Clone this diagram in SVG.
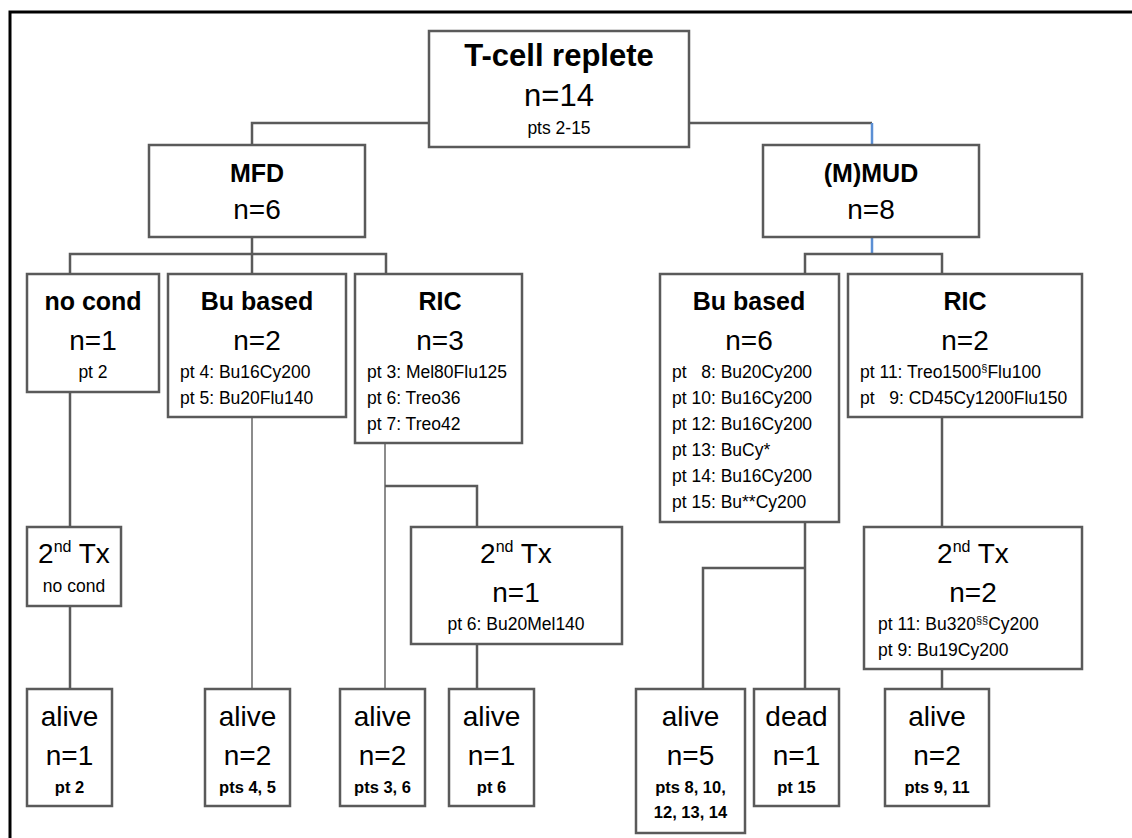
<svg xmlns="http://www.w3.org/2000/svg" width="1132" height="838" viewBox="0 0 1132 838">
  <style>
    .box { fill: #ffffff; stroke: #5a5a5a; stroke-width: 2.5; }
    .ln { fill: none; stroke: #5a5a5a; stroke-width: 2.5; }
    .lt { fill: none; stroke: #8c8c8c; stroke-width: 2; }
    .bl { fill: none; stroke: #5b8fd4; stroke-width: 2.5; }
    text { font-family: "Liberation Sans", Arial, sans-serif; fill: #000000; }
    .t { font-size: 25px; font-weight: bold; text-anchor: middle; }
    .tt { font-size: 31px; font-weight: bold; text-anchor: middle; }
    .n { font-size: 28px; text-anchor: middle; }
    .nn { font-size: 31px; text-anchor: middle; }
    .s { font-size: 17.5px; }
    .sc { font-size: 17.5px; text-anchor: middle; }
    .sb { font-size: 16.5px; font-weight: bold; text-anchor: middle; }
    .sup { font-size: 16px; }
    .sups { font-size: 11px; }
  </style>

  <rect x="0" y="0" width="1132" height="838" fill="#ffffff"/>

  <!-- outer frame (top and left edges) -->
  <path d="M10 838 V12 H1132" fill="none" stroke="#000000" stroke-width="3"/>

  <!-- connectors -->
  <g id="connectors">
    <path class="ln" d="M429 123 H252 V145"/>
    <path class="ln" d="M689 123 H872"/>
    <path class="bl" d="M872 123 V145"/>
    <path class="ln" d="M252 237 V254"/>
    <path class="ln" d="M70 274 V254 H386 V274"/>
    <path class="ln" d="M252 254 V274"/>
    <path class="bl" d="M872 237 V254"/>
    <path class="ln" d="M805 274 V254 H942 V274"/>
    <!-- MFD branches -->
    <path class="ln" d="M70 392 V527"/>
    <path class="ln" d="M70 606 V689"/>
    <path class="lt" d="M252 417 V689"/>
    <path class="lt" d="M385 443 V689"/>
    <path class="ln" d="M385 486 H477 V527"/>
    <path class="ln" d="M477 644 V689"/>
    <!-- (M)MUD branches -->
    <path class="ln" d="M805 522 V689"/>
    <path class="ln" d="M805 568 H703 V689"/>
    <path class="ln" d="M942 417 V527"/>
    <path class="ln" d="M942 669 V689"/>
  </g>

  <g id="tcell">
    <rect class="box" x="429" y="31" width="260" height="116"/>
    <text class="tt" x="559" y="66">T-cell replete</text>
    <text class="nn" x="559" y="106">n=14</text>
    <text class="sc" x="559" y="134">pts 2-15</text>
  </g>

  <g id="mfd">
    <rect class="box" x="149" y="145" width="216" height="92"/>
    <text class="t" x="257" y="182">MFD</text>
    <text class="n" x="257" y="219">n=6</text>
  </g>

  <g id="mmud">
    <rect class="box" x="763" y="145" width="216" height="92"/>
    <text class="t" x="871" y="182">(M)MUD</text>
    <text class="n" x="871" y="219">n=8</text>
  </g>

  <g id="mfd-nocond">
    <rect class="box" x="27" y="274" width="132" height="118"/>
    <text class="t" x="93" y="310">no cond</text>
    <text class="n" x="93" y="350">n=1</text>
    <text class="sc" x="93" y="378">pt 2</text>
  </g>

  <g id="mfd-bu">
    <rect class="box" x="168" y="274" width="178" height="143"/>
    <text class="t" x="257" y="310">Bu based</text>
    <text class="n" x="257" y="350">n=2</text>
    <text class="s" x="180" y="378">pt 4: Bu16Cy200</text>
    <text class="s" x="180" y="404">pt 5: Bu20Flu140</text>
  </g>

  <g id="mfd-ric">
    <rect class="box" x="355" y="274" width="167" height="169"/>
    <text class="t" x="440" y="310">RIC</text>
    <text class="n" x="440" y="350">n=3</text>
    <text class="s" x="367" y="378">pt 3: Mel80Flu125</text>
    <text class="s" x="367" y="404">pt 6: Treo36</text>
    <text class="s" x="367" y="430">pt 7: Treo42</text>
  </g>

  <g id="mmud-bu">
    <rect class="box" x="660" y="274" width="179" height="248"/>
    <text class="t" x="749" y="310">Bu based</text>
    <text class="n" x="749" y="350">n=6</text>
    <text class="s" x="672" y="378" xml:space="preserve">pt   8: Bu20Cy200</text>
    <text class="s" x="672" y="404">pt 10: Bu16Cy200</text>
    <text class="s" x="672" y="430">pt 12: Bu16Cy200</text>
    <text class="s" x="672" y="456">pt 13: BuCy*</text>
    <text class="s" x="672" y="482">pt 14: Bu16Cy200</text>
    <text class="s" x="672" y="508">pt 15: Bu**Cy200</text>
  </g>

  <g id="mmud-ric">
    <rect class="box" x="848" y="274" width="234" height="143"/>
    <text class="t" x="965" y="310">RIC</text>
    <text class="n" x="965" y="350">n=2</text>
    <text class="s" x="860" y="378">pt 11: Treo1500<tspan class="sups" dy="-6">§</tspan><tspan dy="6">Flu100</tspan></text>
    <text class="s" x="860" y="404" xml:space="preserve">pt   9: CD45Cy1200Flu150</text>
  </g>

  <g id="mfd-nocond-2tx">
    <rect class="box" x="27" y="527" width="94" height="79"/>
    <text class="n" x="74" y="563">2<tspan class="sup" dy="-11">nd</tspan><tspan dy="11"> Tx</tspan></text>
    <text class="sc" x="74" y="592">no cond</text>
  </g>

  <g id="mfd-ric-2tx">
    <rect class="box" x="411" y="527" width="211" height="117"/>
    <text class="n" x="516" y="563">2<tspan class="sup" dy="-11">nd</tspan><tspan dy="11"> Tx</tspan></text>
    <text class="n" x="516" y="602">n=1</text>
    <text class="sc" x="516" y="630">pt 6: Bu20Mel140</text>
  </g>

  <g id="mmud-ric-2tx">
    <rect class="box" x="864" y="527" width="218" height="142"/>
    <text class="n" x="973" y="563">2<tspan class="sup" dy="-11">nd</tspan><tspan dy="11"> Tx</tspan></text>
    <text class="n" x="973" y="602">n=2</text>
    <text class="s" x="878" y="630">pt 11: Bu320<tspan class="sups" dy="-6">§§</tspan><tspan dy="6">Cy200</tspan></text>
    <text class="s" x="878" y="656">pt 9: Bu19Cy200</text>
  </g>

  <g id="out-pt2">
    <rect class="box" x="27" y="689" width="85" height="117"/>
    <text class="n" x="69.5" y="726">alive</text>
    <text class="n" x="69.5" y="765">n=1</text>
    <text class="sb" x="69.5" y="793">pt 2</text>
  </g>

  <g id="out-pts45">
    <rect class="box" x="205" y="689" width="85" height="117"/>
    <text class="n" x="247.5" y="726">alive</text>
    <text class="n" x="247.5" y="765">n=2</text>
    <text class="sb" x="247.5" y="793">pts 4, 5</text>
  </g>

  <g id="out-pts36">
    <rect class="box" x="340" y="689" width="85" height="117"/>
    <text class="n" x="382.5" y="726">alive</text>
    <text class="n" x="382.5" y="765">n=2</text>
    <text class="sb" x="382.5" y="793">pts 3, 6</text>
  </g>

  <g id="out-pt6">
    <rect class="box" x="449" y="689" width="85" height="117"/>
    <text class="n" x="491.5" y="726">alive</text>
    <text class="n" x="491.5" y="765">n=1</text>
    <text class="sb" x="491.5" y="793">pt 6</text>
  </g>

  <g id="out-alive5">
    <rect class="box" x="636" y="689" width="109" height="144"/>
    <text class="n" x="690.5" y="726">alive</text>
    <text class="n" x="690.5" y="765">n=5</text>
    <text class="sb" x="690.5" y="793">pts 8, 10,</text>
    <text class="sb" x="690.5" y="818">12, 13, 14</text>
  </g>

  <g id="out-dead">
    <rect class="box" x="754" y="689" width="85" height="117"/>
    <text class="n" x="796.5" y="726">dead</text>
    <text class="n" x="796.5" y="765">n=1</text>
    <text class="sb" x="796.5" y="793">pt 15</text>
  </g>

  <g id="out-pts911">
    <rect class="box" x="885" y="689" width="104" height="117"/>
    <text class="n" x="937" y="726">alive</text>
    <text class="n" x="937" y="765">n=2</text>
    <text class="sb" x="937" y="793">pts 9, 11</text>
  </g>
</svg>
